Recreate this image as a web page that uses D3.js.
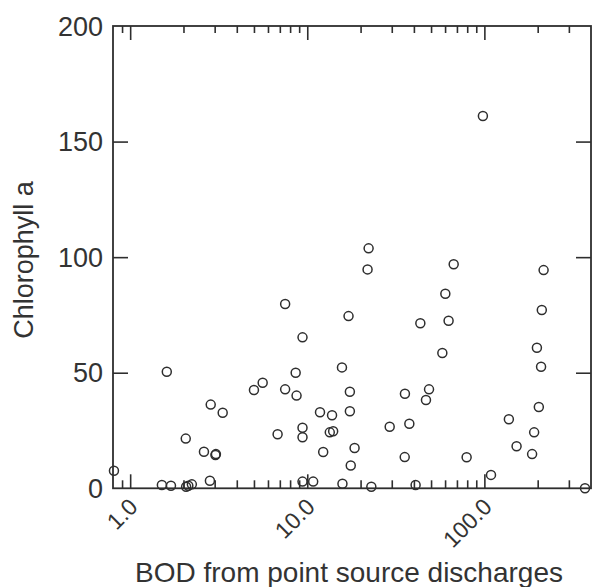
<!DOCTYPE html>
<head>
    <meta charset="utf-8">
    <title>Chlorophyll a vs BOD</title>
    <style>
        body { margin: 0; background: #fff; }
        text { font-family: "Liberation Sans", Arial, sans-serif; fill: #333; }
    </style>
</head>
<body>
<svg width="593" height="587"></svg>
<script src="https://d3js.org/d3.v7.min.js"></script>
<script>

    //data
    var bod = [9.4, 1.61, 15.7, 8.6, 5.6, 5.0, 7.5, 8.7, 17.4, 2.85, 3.33, 11.8, 13.8, 17.4,
               2.06, 6.8, 9.4, 9.4, 13.4, 14.0, 2.61, 3.03, 3.05, 12.3, 18.5, 17.6,
               0.81, 1.51, 1.70, 2.07, 2.13, 2.23, 2.82, 9.4, 10.8, 15.8,
               57.9, 198, 209, 35.6, 48.7, 46.8, 29.2, 37.7, 203, 137.5, 191, 152, 186,
               35.5, 79.4, 109, 23.0, 40.9, 370,
               7.5, 17.1, 22.2, 21.9, 67.1, 216, 60.2, 211, 43.5, 62.8, 98.1];
    var chl = [65.3, 50.4, 52.3, 50.0, 45.7, 42.5, 42.8, 40.1, 41.8, 36.2, 32.7, 32.9, 31.6, 33.3,
               21.5, 23.4, 26.2, 22.1, 24.2, 24.7, 15.8, 14.4, 14.8, 15.7, 17.4, 9.9,
               7.6, 1.4, 1.1, 0.7, 1.1, 1.7, 3.3, 2.9, 2.9, 2.0,
               58.5, 60.8, 52.6, 40.9, 42.8, 38.2, 26.6, 27.9, 35.2, 29.9, 24.2, 18.2, 14.8,
               13.5, 13.4, 5.8, 0.7, 1.4, 0,
               79.7, 74.5, 103.8, 94.7, 96.9, 94.4, 84.2, 77.1, 71.4, 72.5, 161.1];

    var xDomain = [0.8, 400];
    var yDomain = [0, 200];
    var xLabelTicks = [1, 10, 100];
    var yTicks = [0, 50, 100, 150, 200];

    var svg = d3.select("svg");
    // plot box (note: "top" is taken by window.top, so use other names)
    var pL = 113, pR = 591, pT = 26, pB = 488.3;

    //scales
    var x = d3.scaleLog().domain(xDomain).range([pL, pR]);
    var y = d3.scaleLinear().domain(yDomain).range([pB, pT]);

    var ink = "#2e2e2e";

    //log ticks: long on decades, short in between
    var xt = x.ticks().filter(d => d > xDomain[0] && d < xDomain[1]);
    var isMajor = d => Math.abs(Math.log10(d) - Math.round(Math.log10(d))) < 1e-9;

    var gTop = svg.append("g").attr("transform", "translate(0," + pT + ")")
        .call(d3.axisBottom(x).tickValues(xt).tickFormat("").tickSizeOuter(0));
    gTop.select(".domain").remove();
    gTop.selectAll(".tick line")
        .attr("y2", d => isMajor(d) ? 14 : 7)
        .attr("stroke", ink).attr("stroke-width", 1.6);

    var gBot = svg.append("g").attr("transform", "translate(0," + pB + ")")
        .call(d3.axisTop(x).tickValues(xt).tickFormat("").tickSizeOuter(0));
    gBot.select(".domain").remove();
    gBot.selectAll(".tick line")
        .attr("y2", d => isMajor(d) ? -14 : -8)
        .attr("stroke", ink).attr("stroke-width", 1.6);

    //rotated x labels
    gBot.selectAll(".xlab")
        .data(xLabelTicks)
        .enter().append("text")
            .attr("class", "xlab")
            .attr("transform", d => "translate(" + (x(d) + 9) + ",20) rotate(-45)")
            .attr("text-anchor", "end")
            .attr("font-size", 23)
            .text(d => d.toFixed(1));

    //y axes, ticks pointing inward
    var gLeft = svg.append("g").attr("transform", "translate(" + pL + ",0)")
        .call(d3.axisRight(y).tickValues(yTicks.slice(1, -1)).tickFormat("").tickSizeOuter(0).tickSizeInner(15));
    gLeft.select(".domain").remove();
    gLeft.selectAll(".tick line").attr("stroke", ink).attr("stroke-width", 1.6);

    var gRight = svg.append("g").attr("transform", "translate(" + pR + ",0)")
        .call(d3.axisLeft(y).tickValues(yTicks.slice(1, -1)).tickFormat("").tickSizeOuter(0).tickSizeInner(15));
    gRight.select(".domain").remove();
    gRight.selectAll(".tick line").attr("stroke", ink).attr("stroke-width", 1.6);

    svg.selectAll(".ylab")
        .data(yTicks)
        .enter().append("text")
            .attr("class", "ylab")
            .attr("x", pL - 10)
            .attr("y", d => y(d))
            .attr("dy", "0.36em")
            .attr("text-anchor", "end")
            .attr("font-size", 27)
            .text(d => d);

    //frame
    svg.append("rect")
        .attr("x", pL).attr("y", pT)
        .attr("width", pR - pL).attr("height", pB - pT)
        .attr("fill", "none").attr("stroke", ink).attr("stroke-width", 1.8);

    //points
    svg.append("g")
        .selectAll("circle")
        .data(bod)
        .enter().append("circle")
            .attr("cx", d => x(d))
            .attr("cy", (d, i) => y(chl[i]))
            .attr("r", 4.5)
            .attr("fill", "none")
            .attr("stroke", ink)
            .attr("stroke-width", 1.5);

    //axis titles
    svg.append("text")
        .attr("x", 349).attr("y", 582)
        .attr("text-anchor", "middle")
        .attr("font-size", 28)
        .text("BOD from point source discharges");

    svg.append("text")
        .attr("transform", "translate(33,260) rotate(-90)")
        .attr("text-anchor", "middle")
        .attr("font-size", 27)
        .text("Chlorophyll a");

</script>
</body>
